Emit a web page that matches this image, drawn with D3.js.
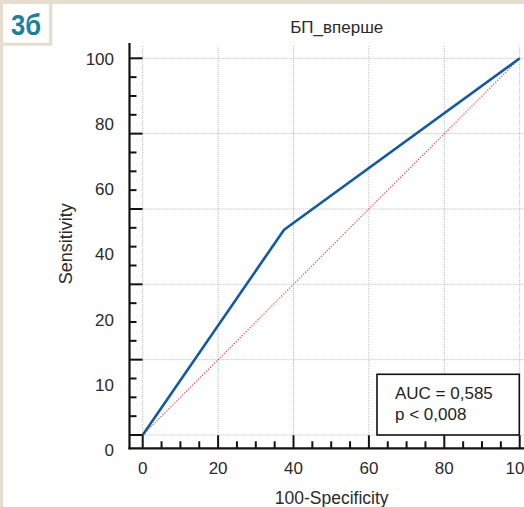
<!DOCTYPE html>
<html>
<head>
<meta charset="utf-8">
<script src="https://cdn.jsdelivr.net/npm/d3@7"></script>
<style>
  html, body { margin: 0; padding: 0; background: #fff; }
  svg { display: block; }
  text { font-family: "Liberation Sans", Arial, sans-serif; }
</style>
</head>
<body>
<script>
// ---- data ----
const rocFpr = [0, 37.5, 100];          // 100-Specificity
const rocTpr = [0, 54.5, 100];          // Sensitivity
const diagonal = [0, 100];
const xTickValues = [0, 20, 40, 60, 80, 100];
const yTickValues = [0, 20, 40, 60, 80, 100];
const yTickLabels = ["100", "80", "60", "40", "20", "10", "0"];
const chartTitle = "БП_вперше";
const panelLabel = "3б";
const aucLines = ["AUC = 0,585", "p < 0,008"];

const W = 524, H = 507;
const svg = d3.select("body").append("svg").attr("width", W).attr("height", H);

// frame
const beige = "#e7ddcf";
svg.append("rect").attr("x", 0).attr("y", 0).attr("width", W).attr("height", H).attr("fill", beige);
svg.append("rect").attr("x", 3).attr("y", 4).attr("width", W - 3).attr("height", H - 4).attr("fill", "#fff");
svg.append("rect").attr("x", 3).attr("y", 4).attr("width", 49.3).attr("height", 41.7).attr("fill", beige);
svg.append("rect").attr("x", 3).attr("y", 4).attr("width", 46).attr("height", 38.7).attr("fill", "#fff");
svg.append("text").text(panelLabel)
  .attr("x", 11).attr("y", 35)
  .attr("font-size", 30).attr("font-weight", "bold")
  .attr("fill", "#17809c")
  .attr("textLength", 30).attr("lengthAdjust", "spacingAndGlyphs");

// scales
const x = d3.scaleLinear().domain([0, 100]).range([142.7, 519.7]);
const y = d3.scaleLinear().domain([0, 100]).range([435, 58.3]);
const axisX = 129.5, axisY = 448.3, plotTop = 43;

// gridlines
const grid = svg.append("g").attr("stroke", "#bbbbbb").attr("stroke-width", 1).attr("stroke-dasharray", "1,1");
grid.selectAll("line.v").data(xTickValues).join("line")
  .attr("x1", d => x(d)).attr("x2", d => x(d))
  .attr("y1", 46).attr("y2", axisY);
grid.selectAll("line.h").data(yTickValues).join("line")
  .attr("x1", x(0)).attr("x2", W)
  .attr("y1", d => y(d)).attr("y2", d => y(d));

// diagonal
svg.append("line")
  .attr("x1", x(diagonal[0])).attr("y1", y(diagonal[0]))
  .attr("x2", x(diagonal[1])).attr("y2", y(diagonal[1]))
  .attr("stroke", "#f04a5a").attr("stroke-width", 1.2).attr("stroke-dasharray", "1.3,1.5");

// ROC curve
const rocData = rocFpr.map((f, i) => [f, rocTpr[i]]);
svg.append("path")
  .datum(rocData)
  .attr("d", d3.line().x(d => x(d[0])).y(d => y(d[1])))
  .attr("fill", "none").attr("stroke", "#1259a6").attr("stroke-width", 2.6)
  .attr("stroke-linejoin", "round");

// axes lines
svg.append("line").attr("x1", axisX).attr("x2", axisX).attr("y1", plotTop).attr("y2", axisY + 1)
  .attr("stroke", "#111").attr("stroke-width", 2.2);
svg.append("line").attr("x1", axisX - 1).attr("x2", W).attr("y1", axisY).attr("y2", axisY)
  .attr("stroke", "#111").attr("stroke-width", 2.2);

// y ticks (inward, to the right)
const yMinor = d3.range(0, 101, 5);
const yt = svg.append("g").attr("stroke", "#111").attr("stroke-width", 2);
yt.selectAll("line").data(yMinor).join("line")
  .attr("x1", axisX).attr("x2", d => axisX + (d % 20 === 0 ? 13 : 7))
  .attr("y1", d => y(d)).attr("y2", d => y(d));

// x ticks (inward, upward)
const xMinor = d3.range(0, 101, 5);
const xt = svg.append("g").attr("stroke", "#111").attr("stroke-width", 2);
xt.selectAll("line").data(xMinor).join("line")
  .attr("y1", axisY).attr("y2", d => axisY - (d % 20 === 0 ? 13 : 7))
  .attr("x1", d => x(d)).attr("x2", d => x(d));

// y tick labels (evenly spaced as in the figure)
const yLab = d3.scalePoint().domain(yTickLabels).range([58.8, 449.7]);
svg.append("g").selectAll("text").data(yTickLabels).join("text")
  .text(d => d)
  .attr("x", 114).attr("y", d => yLab(d) + 6.1)
  .attr("text-anchor", "end").attr("font-size", 17).attr("fill", "#2b2b2b");

// x tick labels
svg.append("g").selectAll("text").data(xTickValues).join("text")
  .text(d => d)
  .attr("x", d => x(d)).attr("y", 474)
  .attr("text-anchor", "middle").attr("font-size", 17).attr("fill", "#2b2b2b");

// titles
svg.append("text").text(chartTitle)
  .attr("x", 336.7).attr("y", 33.3).attr("text-anchor", "middle")
  .attr("font-size", 17).attr("fill", "#2b2b2b");
svg.append("text").text("100-Specificity")
  .attr("x", 331.7).attr("y", 504).attr("text-anchor", "middle")
  .attr("font-size", 17.5).attr("fill", "#2b2b2b");
svg.append("text").text("Sensitivity")
  .attr("transform", "translate(71.5,243.7) rotate(-90)")
  .attr("text-anchor", "middle").attr("font-size", 18).attr("fill", "#2b2b2b");

// AUC box
svg.append("rect").attr("x", 377).attr("y", 374.3).attr("width", 142.3).attr("height", 60.7)
  .attr("fill", "#fff").attr("stroke", "#111").attr("stroke-width", 1.6);
svg.append("g").selectAll("text").data(aucLines).join("text")
  .text(d => d)
  .attr("x", 395).attr("y", (d, i) => 399 + i * 21)
  .attr("font-size", 17).attr("fill", "#1e1e1e");
</script>
</body>
</html>
